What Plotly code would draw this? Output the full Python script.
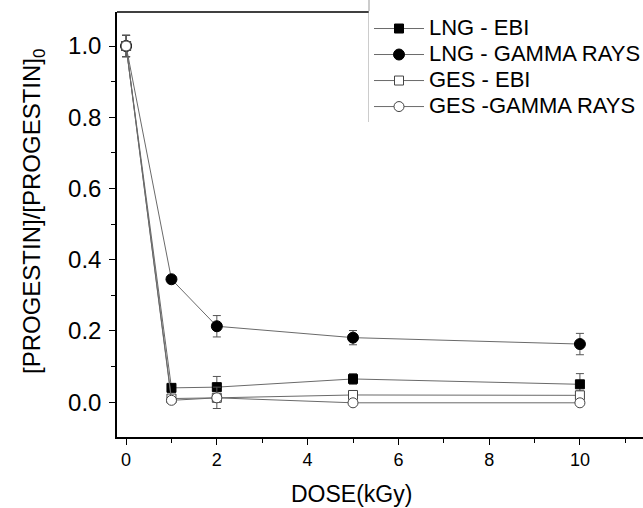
import plotly.graph_objects as go

dose = [0, 1, 2, 5, 10]
lng_ebi = [1.0, 0.040, 0.042, 0.065, 0.050]
lng_ebi_err = [0.03, 0.005, 0.03, 0.015, 0.03]
lng_gamma = [1.0, 0.345, 0.213, 0.181, 0.163]
lng_gamma_err = [0.03, 0.005, 0.03, 0.02, 0.03]
ges_ebi = [1.0, 0.010, 0.012, 0.020, 0.019]
ges_ebi_err = [0.03, 0.005, 0.01, 0.012, 0.012]
ges_gamma = [1.0, 0.005, 0.012, -0.002, -0.002]
ges_gamma_err = [0.03, 0.005, 0.03, 0.005, 0.005]

names = ["LNG - EBI", "LNG - GAMMA RAYS", "GES - EBI", "GES -GAMMA RAYS"]
series = [lng_ebi, lng_gamma, ges_ebi, ges_gamma]
errors = [lng_ebi_err, lng_gamma_err, ges_ebi_err, ges_gamma_err]
symbols = ["square", "circle", "square-open", "circle-open"]
sizes = [9, 11, 9, 10]

x_title = "DOSE(kGy)"
y_title = "[PROGESTIN]/[PROGESTIN]<sub>0</sub>"

fig = go.Figure()
for name, ys, err, sym, sz in zip(names, series, errors, symbols, sizes):
    filled = "open" not in sym
    fig.add_trace(go.Scatter(
        x=dose, y=ys, name='<span style="font-size:22px">' + name + '</span>',
        mode="lines+markers",
        line=dict(color="#6a6a6a", width=1),
        marker=dict(symbol="square" if sym.startswith("square") else "circle",
                    size=sz,
                    color="black" if filled else "white",
                    line=dict(color="black" if filled else "#444", width=1)),
        error_y=dict(type="data", array=err, visible=True,
                     color="#555", thickness=1, width=4),
    ))

L, T, B = 117, 12, 71
W, H = 643, 508
pw = W - L
ph = H - T - B
lx = (369 - L) / pw
ly = (H - B - 122) / ph


def px_x(p):
    return (p - L) / pw


def px_y(p):
    return (H - B - p) / ph


fig.update_layout(
    width=W, height=H,
    margin=dict(l=L, r=0, t=T, b=B, autoexpand=False),
    paper_bgcolor="white", plot_bgcolor="white",
    font=dict(family="Liberation Sans, Arial, sans-serif", color="black"),
    showlegend=True,
    legend=dict(x=lx, y=1.0035, xanchor="left", yanchor="top",
                bgcolor="white", borderwidth=0,
                font=dict(size=17.7, color="black"),
                itemwidth=50, tracegroupgap=0,
                traceorder="normal"),
    xaxis=dict(range=[-0.2, 11.39], showgrid=False, zeroline=False,
               showline=True, linecolor="black", linewidth=1.5,
               ticks="outside", ticklen=6, tickwidth=1.2, tickcolor="black",
               tickvals=[0, 2, 4, 6, 8, 10],
               ticktext=["0", "2", "4", "6", "8", "10"],
               tickfont=dict(size=18),
               minor=dict(ticks="outside", ticklen=4, tickwidth=1.2,
                          tickcolor="black", dtick=1, tick0=0)),
    yaxis=dict(range=[-0.098, 1.0955], showgrid=False, zeroline=False,
               showline=True, linecolor="black", linewidth=1.5,
               ticks="outside", ticklen=6, tickwidth=1.2, tickcolor="black",
               tickvals=[0, 0.2, 0.4, 0.6, 0.8, 1.0],
               ticktext=["0.0", "0.2", "0.4", "0.6", "0.8", "1.0"],
               tickfont=dict(size=24), ticklabelstandoff=3,
               minor=dict(ticks="outside", ticklen=4, tickwidth=1.2,
                          tickcolor="black", dtick=0.1, tick0=0)),
    annotations=[
        dict(text=x_title, xref="paper", yref="paper", x=px_x(351), y=px_y(494),
             xanchor="center", yanchor="middle", showarrow=False,
             font=dict(size=23)),
        dict(text=y_title, xref="paper", yref="paper", x=px_x(33), y=px_y(212),
             xanchor="center", yanchor="middle", showarrow=False, textangle=-90,
             font=dict(size=24)),
    ],
    shapes=[
        dict(type="line", xref="paper", yref="paper", x0=0, x1=lx, y0=1, y1=1,
             line=dict(color="black", width=1.5)),
        dict(type="line", xref="paper", yref="paper", x0=lx, x1=lx, y0=1.03, y1=ly,
             line=dict(color="#999", width=1)),
        dict(type="line", xref="paper", yref="paper", x0=lx, x1=1.0, y0=ly, y1=ly,
             line=dict(color="#999", width=1)),
    ],
)

fig.write_html("out.html")
